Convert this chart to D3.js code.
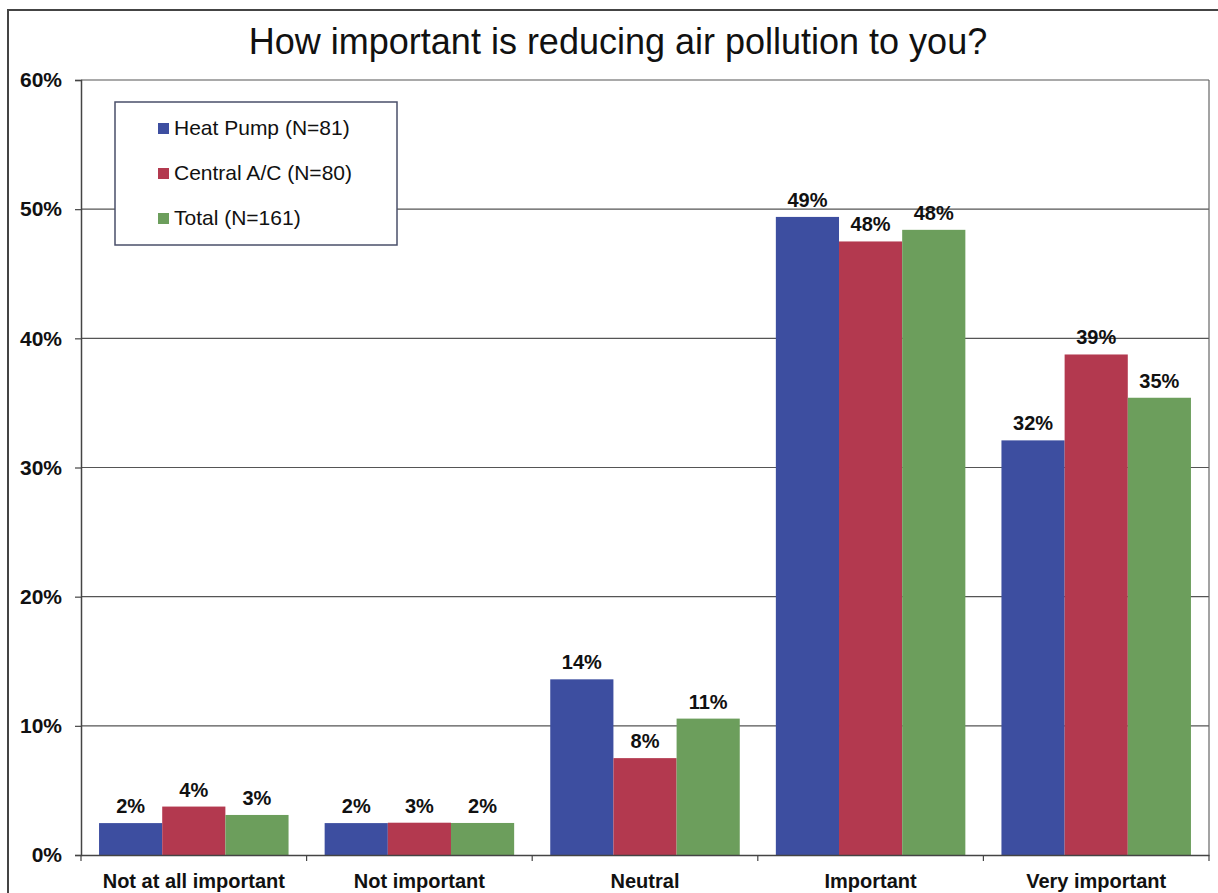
<!DOCTYPE html>
<html>
<head>
<meta charset="utf-8">
<script src="https://cdn.jsdelivr.net/npm/d3@7"></script>
<style>
  html, body { margin: 0; padding: 0; background: #fff; }
  svg { display: block; font-family: Arial, "Liberation Sans", sans-serif; }
</style>
</head>
<body>
<svg id="chart" width="1218" height="893"></svg>
<script>
// Survey responses (percent of respondents)
const categories = ["Not at all important", "Not important", "Neutral", "Important", "Very important"];
const seriesNames = ["Heat Pump (N=81)", "Central A/C (N=80)", "Total (N=161)"];
const heatPump  = [2.47, 2.47, 13.6, 49.4, 32.1];
const centralAC = [3.75, 2.5, 7.5, 47.5, 38.75];
const total     = [3.1, 2.48, 10.56, 48.4, 35.4];
const yTicks = [0, 10, 20, 30, 40, 50, 60];
const colors = ["#3d4ea0", "#b3394f", "#6c9e5c"];

const seriesValues = [heatPump, centralAC, total];

const svg = d3.select("#chart");
const plotLeft = 81, plotRight = 1209, plotTop = 80, plotBottom = 855;

// outer chart frame (top and left edges)
svg.append("path")
  .attr("d", `M8,893 L8,10 L1218,10`)
  .attr("fill", "none").attr("stroke", "#444").attr("stroke-width", 2);

// title
svg.append("text")
  .attr("x", 618).attr("y", 54)
  .attr("text-anchor", "middle")
  .attr("font-size", 36).attr("fill", "#111")
  .text("How important is reducing air pollution to you?");

const y = d3.scaleLinear().domain([0, 60]).range([plotBottom, plotTop]);
const x0 = d3.scaleBand().domain(categories).range([plotLeft, plotRight]).padding(0);
const gap = x0.bandwidth() * 0.08;
const x1 = d3.scaleBand().domain(seriesNames).range([gap, x0.bandwidth() - gap]).padding(0);

// gridlines
svg.append("g").selectAll("line").data(yTicks.filter(d => d > 0)).join("line")
  .attr("x1", plotLeft).attr("x2", plotRight)
  .attr("y1", d => y(d)).attr("y2", d => y(d))
  .attr("stroke", "#555").attr("stroke-width", 1.2);

// right edge of plot area
svg.append("line")
  .attr("x1", plotRight).attr("x2", plotRight).attr("y1", plotTop).attr("y2", plotBottom)
  .attr("stroke", "#666").attr("stroke-width", 1.2);

// y axis
const yAxis = svg.append("g")
  .attr("transform", `translate(${plotLeft},0)`)
  .call(d3.axisLeft(y).tickValues(yTicks).tickSize(6).tickPadding(13).tickFormat(d => d + "%"));
yAxis.select(".domain").attr("stroke", "#444").attr("stroke-width", 1.5);
yAxis.selectAll(".tick line").attr("stroke", "#444").attr("stroke-width", 1.2);
yAxis.selectAll(".tick text")
  .attr("font-size", 21).attr("font-weight", "bold").attr("fill", "#111")
  .attr("font-family", "Arial, 'Liberation Sans', sans-serif");

// bars
const groups = svg.append("g").selectAll("g").data(categories).join("g")
  .attr("transform", d => `translate(${x0(d)},0)`);

groups.selectAll("rect")
  .data((c, i) => seriesNames.map((s, k) => ({ s, k, v: seriesValues[k][i] })))
  .join("rect")
  .attr("x", d => x1(d.s))
  .attr("width", x1.bandwidth())
  .attr("y", d => y(d.v))
  .attr("height", d => y(0) - y(d.v))
  .attr("fill", d => colors[d.k]);

// value labels
groups.selectAll("text.val")
  .data((c, i) => seriesNames.map((s, k) => ({ s, k, v: seriesValues[k][i] })))
  .join("text")
  .attr("class", "val")
  .attr("x", d => x1(d.s) + x1.bandwidth() / 2)
  .attr("y", d => y(d.v) - 10)
  .attr("text-anchor", "middle")
  .attr("font-size", 20).attr("font-weight", "bold").attr("fill", "#111")
  .text(d => Math.round(d.v) + "%");

// x axis
const xAxis = svg.append("g")
  .attr("transform", `translate(0,${plotBottom})`)
  .call(d3.axisBottom(x0).tickSize(0).tickPadding(19));
xAxis.select(".domain").attr("stroke", "#444").attr("stroke-width", 1.5);
xAxis.selectAll(".tick text")
  .attr("font-size", 20).attr("font-weight", "bold").attr("fill", "#111")
  .attr("font-family", "Arial, 'Liberation Sans', sans-serif");
// tick marks between categories
xAxis.append("g").selectAll("line")
  .data(categories.map(c => x0(c)).concat([plotRight]))
  .join("line")
  .attr("x1", d => d).attr("x2", d => d)
  .attr("y1", 0).attr("y2", 6)
  .attr("stroke", "#444").attr("stroke-width", 1.2);

// legend
const legend = svg.append("g").attr("transform", "translate(115,102)");
legend.append("rect")
  .attr("width", 282).attr("height", 143)
  .attr("fill", "#fff").attr("stroke", "#4a4f6a").attr("stroke-width", 1.5);
const items = legend.selectAll("g").data(seriesNames).join("g")
  .attr("transform", (d, i) => `translate(43,${26 + i * 45})`);
items.append("rect")
  .attr("x", 0).attr("y", -5).attr("width", 11).attr("height", 11)
  .attr("fill", (d, i) => colors[i]);
items.append("text")
  .attr("x", 16).attr("y", 0).attr("dy", "0.35em")
  .attr("font-size", 21).attr("fill", "#111")
  .text(d => d);
</script>
</body>
</html>
